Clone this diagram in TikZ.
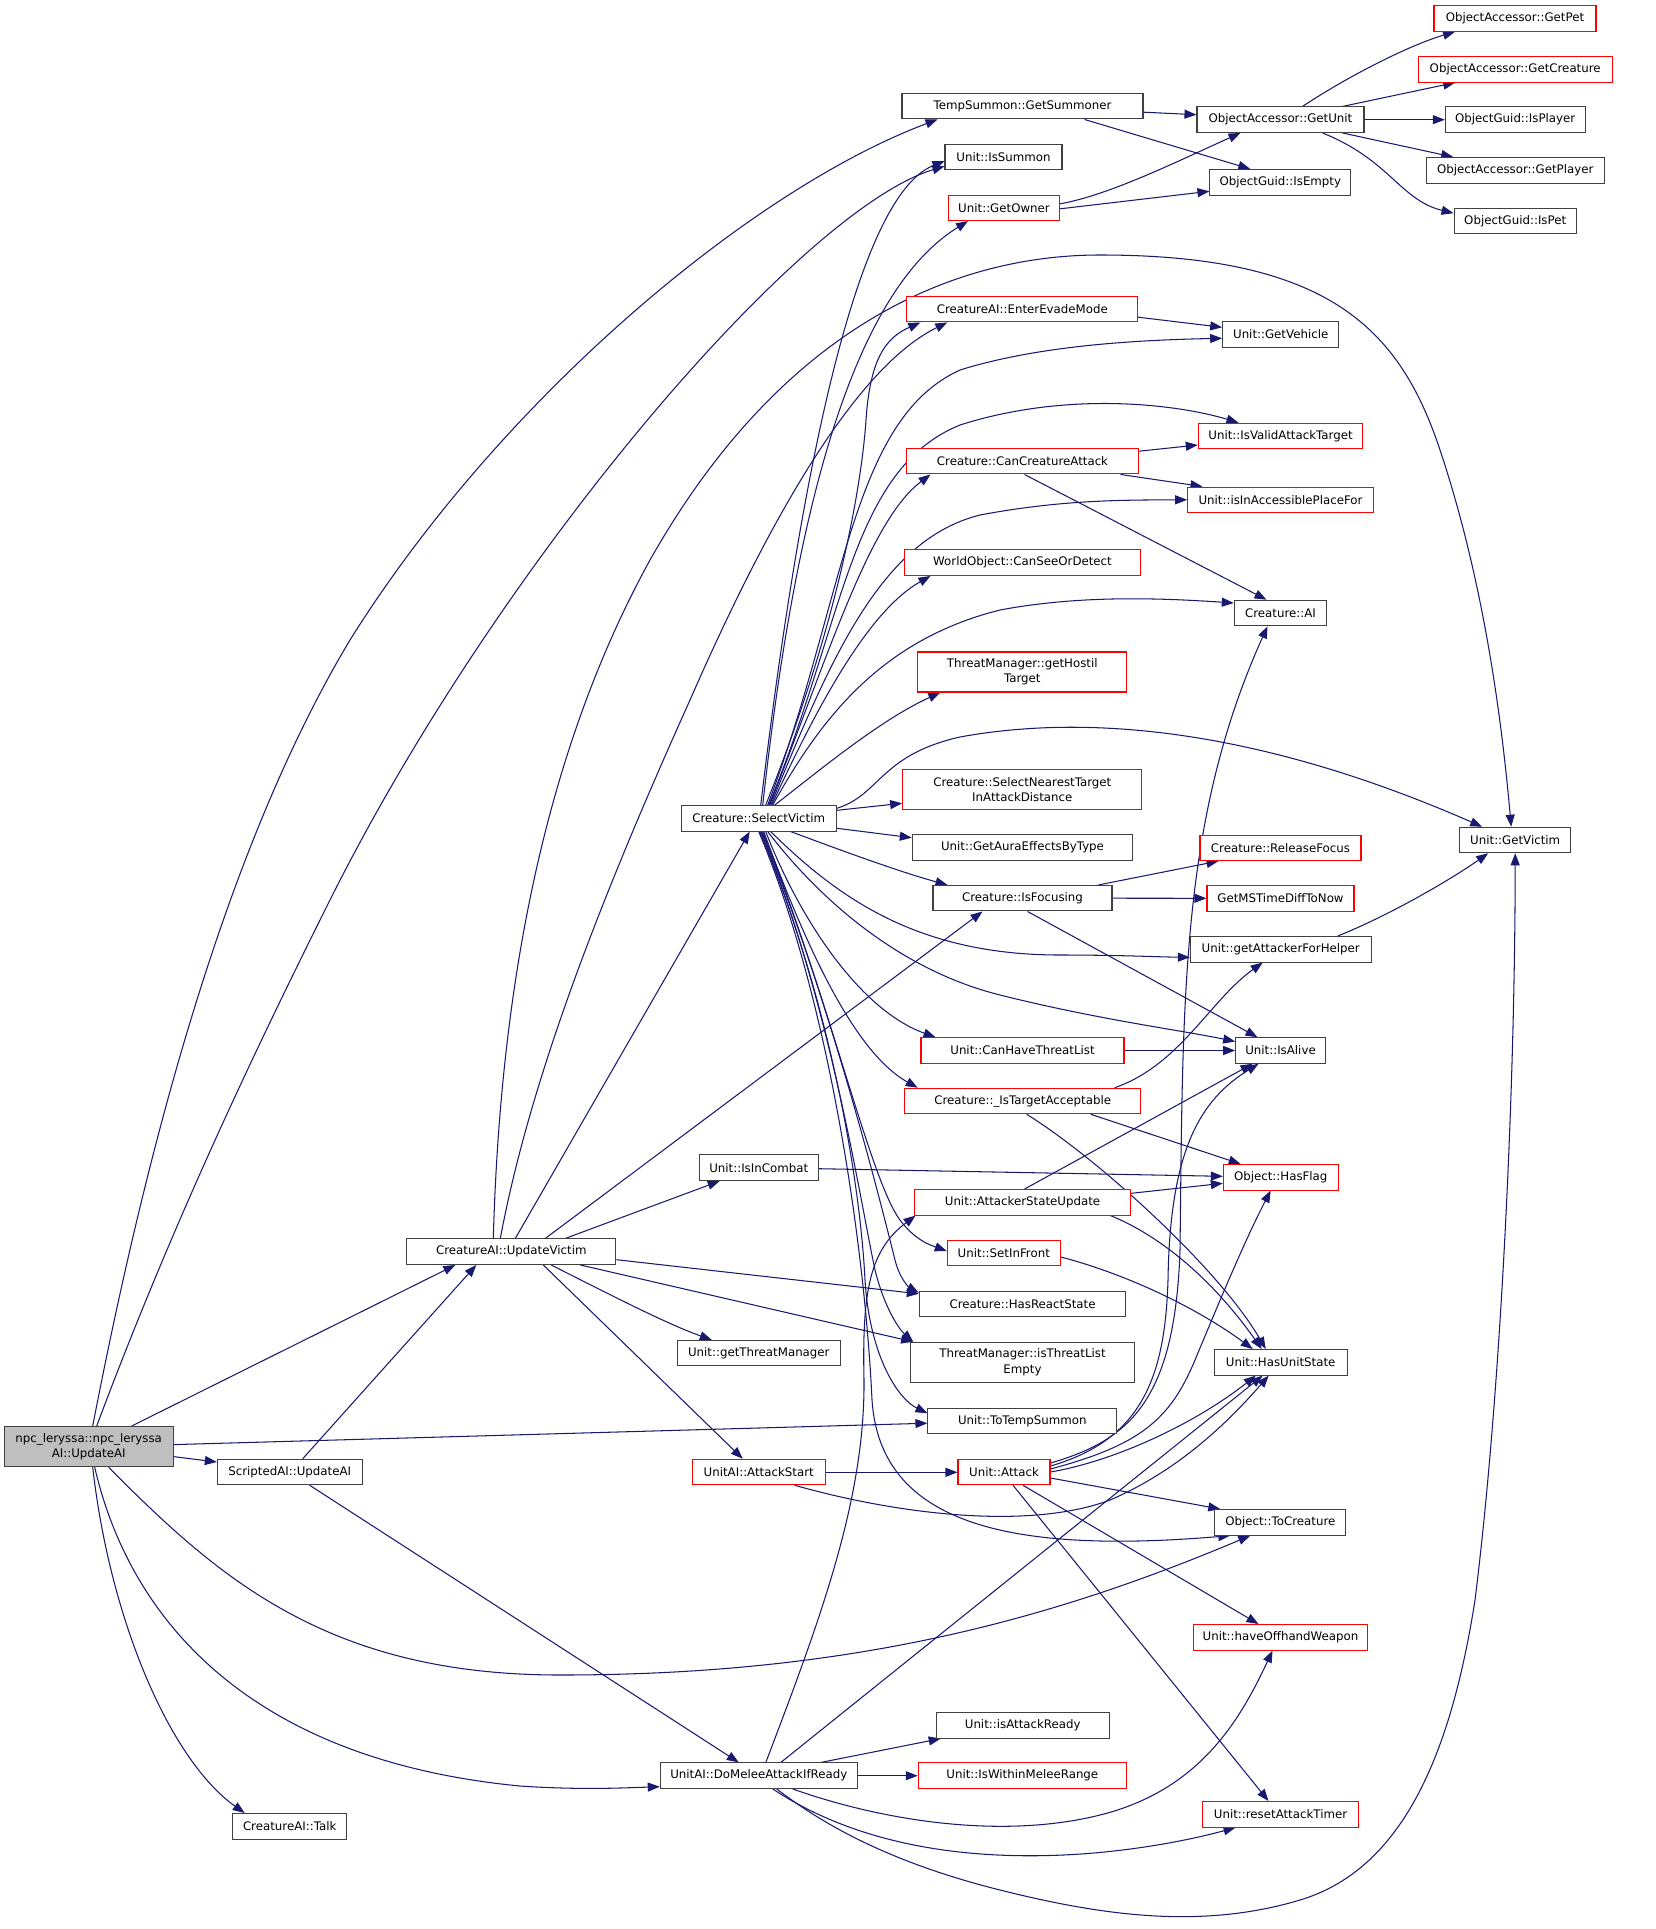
\documentclass[tikz,border=0pt]{standalone}
\usepackage{fontspec}
\newfontfamily\dv{DejaVu Sans}
\usetikzlibrary{arrows.meta}
\definecolor{navy}{RGB}{25,25,112}
\definecolor{boxgray}{RGB}{64,64,64}
\definecolor{boxred}{RGB}{255,0,0}
\definecolor{fillgray}{RGB}{191,191,191}
\pgfdeclarelayer{bg}
\pgfdeclarelayer{paper}
\pgfsetlayers{paper,bg,main}
\begin{document}
\begin{tikzpicture}[x=1pt,y=-1pt,
  bx/.style={draw=boxgray, line width=1.05pt, fill=white, inner sep=0pt, minimum height=25.5pt, font=\dv\fontsize{11.8}{15.3}\selectfont, align=center},
  rbx/.style={bx, draw=boxred},
  cnx/.style={draw=navy, line width=1.05pt, -{Triangle[length=12pt,width=9pt]}}]
\useasboundingbox (0,0) rectangle (1655,1929);
\begin{pgfonlayer}{paper}
\fill[white] (0,0) rectangle (1655,1929);
\end{pgfonlayer}

% nodes
\node[bx, fill=fillgray, minimum width=168.7pt, minimum height=40.2pt] (n) at (88.7,1446.6) {npc\_leryssa::npc\_leryssa\\AI::UpdateAI};
\node[bx, minimum width=241pt] (ts) at (1022.5,106.2) {TempSummon::GetSummoner};
\node[bx, minimum width=117pt] (iss) at (1003.5,157.2) {Unit::IsSummon};
\node[rbx, minimum width=111.4pt] (own) at (1004,207.8) {Unit::GetOwner};
\node[rbx, minimum width=230.7pt] (eem) at (1022.3,309.2) {CreatureAI::EnterEvadeMode};
\node[rbx, minimum width=231.6pt] (cca) at (1022.5,461.2) {Creature::CanCreatureAttack};
\node[rbx, minimum width=162pt] (pet) at (1515,18.5) {ObjectAccessor::GetPet};
\node[rbx, minimum width=194.3pt] (gcr) at (1515.2,69.3) {ObjectAccessor::GetCreature};
\node[bx, minimum width=167pt] (gu) at (1280.5,119.7) {ObjectAccessor::GetUnit};
\node[bx, minimum width=139.7pt] (ipl) at (1515.2,119.7) {ObjectGuid::IsPlayer};
\node[bx, minimum width=178.3pt] (gpl) at (1515.2,170.3) {ObjectAccessor::GetPlayer};
\node[bx, minimum width=122.3pt] (ipe) at (1515.2,221.2) {ObjectGuid::IsPet};
\node[bx, minimum width=140.7pt] (ie) at (1280.3,182.3) {ObjectGuid::IsEmpty};
\node[bx, minimum width=116pt] (gv) at (1280.7,334.3) {Unit::GetVehicle};
\node[rbx, minimum width=164.4pt] (ivt) at (1280.5,436) {Unit::IsValidAttackTarget};
\node[rbx, minimum width=185.6pt] (iap) at (1280.5,499.8) {Unit::isInAccessiblePlaceFor};
\node[rbx, minimum width=236.4pt] (csd) at (1022.5,562.7) {WorldObject::CanSeeOrDetect};
\node[rbx, minimum width=209.3pt, minimum height=40pt] (ght) at (1022.3,672) {ThreatManager::getHostil\\Target};
\node[rbx, minimum width=239.3pt, minimum height=40pt] (snt) at (1022.3,789.3) {Creature::SelectNearestTarget\\InAttackDistance};
\node[bx, minimum width=155.3pt] (sv) at (758.7,818.3) {Creature::SelectVictim};
\node[bx, minimum width=220.4pt] (gae) at (1022.5,847.7) {Unit::GetAuraEffectsByType};
\node[bx, minimum width=179pt] (ifo) at (1022.5,898.2) {Creature::IsFocusing};
\node[bx, minimum width=92.4pt] (cai) at (1280.5,613) {Creature::AI};
\node[bx, minimum width=111pt] (gvi) at (1515.2,840) {Unit::GetVictim};
\node[rbx, minimum width=161pt] (rf) at (1280.5,847.8) {Creature::ReleaseFocus};
\node[rbx, minimum width=147pt] (gms) at (1280.5,898.3) {GetMSTimeDiffToNow};
\node[bx, minimum width=180.7pt] (gah) at (1280.7,949.3) {Unit::getAttackerForHelper};
\node[bx, minimum width=209.3pt] (uv) at (511.3,1251.7) {CreatureAI::UpdateVictim};
\node[rbx, minimum width=203pt] (chl) at (1022.5,1050.5) {Unit::CanHaveThreatList};
\node[rbx, minimum width=236pt] (ita) at (1022.7,1101) {Creature::\_IsTargetAcceptable};
\node[bx, minimum width=119.3pt] (iic) at (758.7,1167.7) {Unit::IsInCombat};
\node[rbx, minimum width=216.4pt] (asu) at (1022.5,1202.3) {Unit::AttackerStateUpdate};
\node[rbx, minimum width=113pt] (sif) at (1003.8,1253) {Unit::SetInFront};
\node[bx, minimum width=206.4pt] (hrs) at (1022.5,1303.8) {Creature::HasReactState};
\node[bx, minimum width=163pt] (gtm) at (758.8,1353.2) {Unit::getThreatManager};
\node[bx, minimum width=223.6pt, minimum height=40pt] (tle) at (1022.5,1362.3) {ThreatManager::isThreatList\\Empty};
\node[bx, minimum width=188.7pt] (tts) at (1022.3,1421.2) {Unit::ToTempSummon};
\node[bx, minimum width=89.6pt] (ial) at (1280.5,1050.5) {Unit::IsAlive};
\node[rbx, minimum width=114.7pt] (hf) at (1280.7,1177.3) {Object::HasFlag};
\node[bx, minimum width=133.3pt] (hus) at (1280.7,1362.3) {Unit::HasUnitState};
\node[bx, minimum width=144.7pt] (sai) at (289.7,1472) {ScriptedAI::UpdateAI};
\node[bx, minimum width=114pt] (tlk) at (289.7,1826.3) {CreatureAI::Talk};
\node[rbx, minimum width=132.7pt] (ast) at (758.7,1472) {UnitAI::AttackStart};
\node[rbx, minimum width=92pt] (att) at (1004,1472) {Unit::Attack};
\node[bx, minimum width=173.3pt] (iar) at (1022.7,1725.3) {Unit::isAttackReady};
\node[bx, minimum width=197pt] (dm) at (758.8,1775.7) {UnitAI::DoMeleeAttackIfReady};
\node[rbx, minimum width=208pt] (iwm) at (1022.3,1775.7) {Unit::IsWithinMeleeRange};
\node[bx, minimum width=130.7pt] (tc) at (1280.3,1522.3) {Object::ToCreature};
\node[rbx, minimum width=174.4pt] (how) at (1280.5,1637.3) {Unit::haveOffhandWeapon};
\node[rbx, minimum width=155.6pt] (rat) at (1280.5,1814.3) {Unit::resetAttackTimer};

\begin{pgfonlayer}{bg}
% npc_leryssa
\draw[cnx] ([xshift=4pt]n.north) .. controls (150,1130) and (230,840) .. (350,640) .. controls (500,400) and (750,190) .. ([xshift=-85pt]ts.south);
\draw[cnx] ([xshift=8pt]n.north) .. controls (170,1230) and (250,1060) .. (330,900) .. controls (500,560) and (800,210) .. ([yshift=-9pt]iss.west);
\draw[cnx] ([xshift=43pt]n.north) -- ([xshift=-56pt]uv.south);
\draw[cnx] ([yshift=-10pt]n.east) -- ([yshift=10pt]sai.west);
\draw[cnx] ([yshift=2pt]n.east) -- ([yshift=-2pt]tts.west);
\draw[cnx] ([xshift=20pt]n.south) .. controls (220,1580) and (330,1675) .. (560,1675) .. controls (850,1675) and (1050,1620) .. ([xshift=-30pt]tc.south);
\draw[cnx] ([xshift=6pt]n.south) .. controls (130,1620) and (250,1760) .. (520,1786) .. controls (580,1790) and (620,1788) .. ([yshift=-11pt]dm.west);
\draw[cnx] ([xshift=4pt]n.south) .. controls (110,1620) and (170,1760) .. ([xshift=-45pt]tlk.north);
% ScriptedAI
\draw[cnx] ([xshift=13pt]sai.north) -- ([xshift=-35pt]uv.south);
\draw[cnx] ([xshift=20pt]sai.south) -- ([xshift=-20pt]dm.north);
% UpdateVictim
\draw[cnx] ([xshift=-18pt]uv.north) .. controls (500,1000) and (540,760) .. (650,560) .. controls (780,330) and (950,255) .. (1100,255) .. controls (1330,255) and (1400,330) .. (1440,450) .. controls (1480,570) and (1500,700) .. ([xshift=-4pt]gvi.north);
\draw[cnx] ([xshift=-11pt]uv.north) .. controls (530,1080) and (600,900) .. (690,700) .. controls (760,540) and (850,370) .. ([xshift=-75pt]eem.south);
\draw[cnx] ([xshift=4pt]uv.north) -- ([xshift=-9pt]sv.south);
\draw[cnx] ([xshift=34pt]uv.north) -- ([xshift=-40pt]ifo.south);
\draw[cnx] ([xshift=54pt]uv.north) -- ([xshift=-39pt]iic.south);
\draw[cnx] ([yshift=-8pt]uv.east) -- ([yshift=10pt]hrs.west);
\draw[cnx] ([xshift=69pt]uv.south) -- ([xshift=3pt]tle.north west);
\draw[cnx] ([xshift=40pt]uv.south) .. controls (620,1300) and (670,1325) .. ([xshift=-47pt]gtm.north);
\draw[cnx] ([xshift=32pt]uv.south) -- ([xshift=-16pt]ast.north);
% SelectVictim upward
\draw[cnx] ([xshift=2pt]sv.north) .. controls (790,560) and (845,200) .. ([yshift=-4pt]iss.west);
\draw[cnx] ([xshift=4pt]sv.north) .. controls (790,560) and (840,300) .. ([xshift=-36pt]own.south);
\draw[cnx] ([xshift=7pt]sv.north) .. controls (840,620) and (862,480) .. (866,420) .. controls (870,360) and (885,338) .. ([xshift=-102pt]eem.south);
\draw[cnx] ([xshift=9pt]sv.north) .. controls (845,600) and (850,420) .. (960,370) .. controls (1040,345) and (1140,340) .. ([yshift=-4pt]gv.west);
\draw[cnx] ([xshift=10pt]sv.north) .. controls (845,620) and (850,470) .. (960,425) .. controls (1070,390) and (1180,405) .. ([xshift=-42pt]ivt.north);
\draw[cnx] ([xshift=11pt]sv.north) .. controls (830,650) and (870,520) .. ([xshift=-92pt]cca.south);
\draw[cnx] ([xshift=12pt]sv.north) .. controls (830,660) and (880,540) .. (980,515) .. controls (1060,500) and (1120,500) .. (iap.west);
\draw[cnx] ([xshift=13pt]sv.north) .. controls (820,700) and (870,610) .. ([xshift=-92pt]csd.south);
\draw[cnx] ([xshift=14pt]sv.north) .. controls (820,720) and (880,640) .. (1000,610) .. controls (1080,595) and (1160,598) .. ([yshift=10pt]cai.west);
\draw[cnx] ([xshift=16pt]sv.north) .. controls (820,770) and (880,720) .. ([xshift=-82pt]ght.south);
\draw[cnx] ([yshift=10pt]sv.east) .. controls (880,795) and (880,755) .. (960,737) .. controls (1080,715) and (1250,725) .. ([xshift=-33pt]gvi.north);
\draw[cnx] ([yshift=8pt]sv.east) -- ([yshift=-14pt]snt.west);
\draw[cnx] ([yshift=-10pt]sv.east) -- ([yshift=10pt]gae.west);
% SelectVictim downward
\draw[cnx] ([xshift=32pt]sv.south) .. controls (840,850) and (900,872) .. ([xshift=-75pt]ifo.north);
\draw[cnx] ([xshift=12pt]sv.south) .. controls (840,900) and (920,955) .. (1060,955) .. controls (1120,955) and (1160,957) .. ([yshift=-8pt]gah.west);
\draw[cnx] ([xshift=9pt]sv.south) .. controls (820,900) and (900,970) .. (1000,995) .. controls (1100,1020) and (1180,1030) .. ([yshift=9pt]ial.west);
\draw[cnx] ([xshift=7pt]sv.south) .. controls (800,920) and (860,1010) .. ([xshift=-87pt]chl.north);
\draw[cnx] ([xshift=5pt]sv.south) .. controls (800,930) and (850,1050) .. ([xshift=-105pt]ita.north);
\draw[cnx] ([xshift=4pt]sv.south) .. controls (830,1000) and (870,1180) .. (900,1220) .. controls (915,1240) and (930,1245) .. ([yshift=2pt]sif.west);
\draw[cnx] ([xshift=3pt]sv.south) .. controls (830,1000) and (880,1200) .. (895,1260) .. controls (900,1280) and (910,1288) .. ([yshift=11pt]hrs.west);
\draw[cnx] ([xshift=2pt]sv.south) .. controls (830,1000) and (860,1200) .. (875,1270) .. controls (885,1310) and (900,1330) .. ([xshift=3pt]tle.north west);
\draw[cnx] ([xshift=1pt]sv.south) .. controls (830,1000) and (860,1180) .. (865,1280) .. controls (870,1360) and (900,1400) .. ([yshift=8pt]tts.west);
\draw[cnx] (sv.south) .. controls (830,1000) and (865,1250) .. (872,1400) .. controls (880,1520) and (1000,1555) .. ([xshift=-50pt]tc.south);
% DoMeleeAttackIfReady
\draw[cnx] ([xshift=7pt]dm.north) .. controls (820,1620) and (865,1500) .. (864,1380) .. controls (862,1290) and (870,1250) .. ([xshift=-107pt]asu.south);
\draw[cnx] ([xshift=18pt]dm.south) .. controls (830,1830) and (900,1865) .. (1000,1890) .. controls (1100,1915) and (1200,1930) .. (1300,1900) .. controls (1400,1870) and (1450,1760) .. (1475,1600) .. controls (1500,1400) and (1515,1100) .. (gvi.south);
\draw[cnx] ([xshift=62pt]dm.north) -- ([xshift=-82pt]iar.south);
\draw[cnx] (dm.east) -- (iwm.west);
\draw[cnx] ([xshift=34pt]dm.south) .. controls (880,1820) and (1000,1840) .. (1100,1815) .. controls (1200,1790) and (1240,1720) .. ([xshift=-8pt]how.south);
\draw[cnx] ([xshift=14pt]dm.south) .. controls (850,1840) and (950,1860) .. (1063,1855) .. controls (1130,1852) and (1190,1840) .. ([xshift=-45pt]rat.south);
\draw[cnx] ([xshift=22pt]dm.north) -- ([xshift=-18pt]hus.south);
% AttackStart
\draw[cnx] ([yshift=-0.3pt]ast.east) -- ([yshift=-0.3pt]att.west);
\draw[cnx] ([xshift=36pt]ast.south) .. controls (900,1515) and (1030,1530) .. (1110,1500) .. controls (1180,1470) and (1230,1420) .. ([xshift=-12pt]hus.south);
% Attack
\draw[cnx] ([yshift=-6pt]att.east) -- ([xshift=-60pt]tc.north);
\draw[cnx] ([xshift=19pt]att.south) -- ([xshift=-22pt]how.north);
\draw[cnx] ([xshift=9pt]att.south) -- ([xshift=-12pt]rat.north);
\draw[cnx] ([yshift=9pt]att.east) .. controls (1130,1440) and (1175,1400) .. (1180,1250) .. controls (1183,1000) and (1180,820) .. ([xshift=-13pt]cai.south);
\draw[cnx] ([yshift=6pt]att.east) .. controls (1140,1440) and (1165,1380) .. (1168,1280) .. controls (1170,1150) and (1200,1100) .. ([xshift=-22pt]ial.south);
\draw[cnx] ([yshift=3pt]att.east) .. controls (1140,1445) and (1170,1420) .. (1195,1360) .. controls (1220,1300) and (1245,1240) .. ([xshift=-10pt]hf.south);
\draw[cnx] (att.east) .. controls (1120,1460) and (1200,1420) .. ([xshift=-25pt]hus.south);
% CanCreatureAttack
\draw[cnx] ([yshift=10pt]cca.east) -- ([yshift=-9pt]ivt.west);
\draw[cnx] ([xshift=98pt]cca.south) -- ([xshift=-78pt]iap.north);
\draw[cnx] ([xshift=2pt]cca.south) -- ([xshift=-14pt]cai.north);
% GetOwner, TempSummon, GetUnit
\draw[cnx] ([yshift=4pt]own.east) .. controls (1110,195) and (1180,160) .. ([xshift=-40pt]gu.south);
\draw[cnx] ([yshift=-1pt]own.east) -- ([yshift=-9pt]ie.west);
\draw[cnx] ([yshift=-6pt]ts.east) -- ([yshift=5pt]gu.west);
\draw[cnx] ([xshift=62pt]ts.south) -- ([xshift=-30pt]ie.north);
\draw[cnx] ([xshift=22pt]gu.north) .. controls (1350,75) and (1410,45) .. ([xshift=-60pt]pet.south);
\draw[cnx] ([xshift=62pt]gu.north) -- ([xshift=-60pt]gcr.south);
\draw[cnx] (gu.east) -- (ipl.west);
\draw[cnx] ([xshift=62pt]gu.south) -- ([xshift=-62pt]gpl.north);
\draw[cnx] ([xshift=42pt]gu.south) .. controls (1390,160) and (1400,200) .. ([yshift=8pt]ipe.west);
% misc
\draw[cnx] ([yshift=-8pt]eem.east) -- ([yshift=7pt]gv.west);
\draw[cnx] ([xshift=57pt]gah.north) .. controls (1390,915) and (1450,880) .. ([xshift=-27pt]gvi.south);
\draw[cnx] ([xshift=76pt]ifo.north) -- ([xshift=-62pt]rf.south);
\draw[cnx] (ifo.east) -- (gms.west);
\draw[cnx] ([xshift=5pt]ifo.south) -- ([xshift=-23pt]ial.north);
\draw[cnx] ([yshift=-1pt]iic.east) -- ([yshift=1pt]hf.west);
\draw[cnx] (chl.east) -- (ial.west);
\draw[cnx] ([xshift=92pt]ita.north) .. controls (1180,1065) and (1210,1000) .. ([xshift=-18pt]gah.south);
\draw[cnx] ([xshift=68pt]ita.south) -- ([xshift=-40pt]hf.north);
\draw[cnx] ([xshift=4pt]ita.south) .. controls (1100,1160) and (1220,1270) .. ([xshift=-15pt]hus.north);
\draw[cnx] ([xshift=2pt]asu.north) -- ([xshift=-28pt]ial.south);
\draw[cnx] ([yshift=9pt]asu.east) -- ([yshift=-6pt]hf.west);
\draw[cnx] ([xshift=88pt]asu.south) .. controls (1170,1240) and (1220,1290) .. ([xshift=-19pt]hus.north);
\draw[cnx] ([yshift=-4pt]sif.east) .. controls (1130,1275) and (1200,1310) .. ([xshift=-28pt]hus.north);
\end{pgfonlayer}
\end{tikzpicture}
\end{document}
